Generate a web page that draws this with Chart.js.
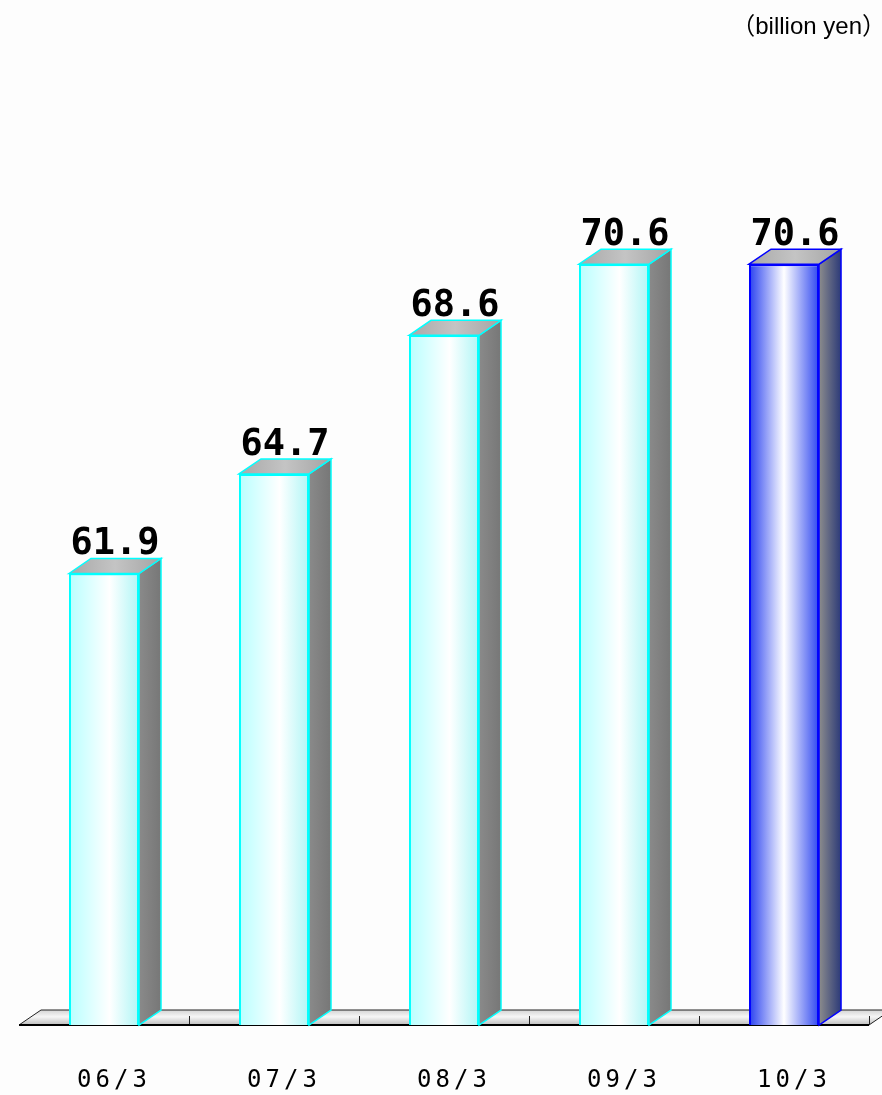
<!DOCTYPE html>
<html>
<head>
<meta charset="utf-8">
<script src="https://cdn.jsdelivr.net/npm/chart.js@4.4.1/dist/chart.umd.min.js"></script>
<style>
  html, body { margin: 0; padding: 0; background: #fdfdfd; }
  #wrap { width: 882px; height: 1095px; }
</style>
</head>
<body>
<div id="wrap"><canvas id="SalesChart" width="882" height="1095"></canvas></div>
<script>
//
//
// Data
var periods = ['06/3', '07/3', '08/3', '09/3', '10/3'];
var sales_values = [61.9, 64.7, 68.6, 70.6, 70.6];
var unit_label = '\uFF08billion yen\uFF09';

//
//
// 3D look
var depth_x = 22;
var depth_y = 15;
var bar_ratio = 0.412;

function frontGradient(chart, index){
  var scale = chart.scales.x;
  if (!scale || !chart.chartArea) return '#e0ffff';
  var center = scale.getPixelForValue(index);
  var half = (scale.width / periods.length) * bar_ratio / 2;
  var g = chart.ctx.createLinearGradient(center - half, 0, center + half, 0);
  if (index === periods.length - 1) {
    g.addColorStop(0, '#2840f0');
    g.addColorStop(0.5, '#ffffff');
    g.addColorStop(1, '#3048f0');
  } else {
    g.addColorStop(0, '#b8ffff');
    g.addColorStop(0.58, '#ffffff');
    g.addColorStop(1, '#b0f6f6');
  }
  return g;
}

//
//
// Floor, side faces, top faces and value labels
var threeD = {
  id: 'threeD',
  beforeDraw: function(chart){
    // wider spacing for the period labels under the floor
    chart.ctx.letterSpacing = '4px';
  },
  beforeDatasetsDraw: function(chart){
    var ctx = chart.ctx;
    ctx.letterSpacing = '0px';
    var area = chart.chartArea;
    var left = area.left, right = area.right, bottom = area.bottom;

    ctx.save();
    var g = ctx.createLinearGradient(0, bottom - depth_y, 0, bottom);
    g.addColorStop(0, '#d4d4d4');
    g.addColorStop(0.45, '#f6f6f6');
    g.addColorStop(1, '#bdbdbd');
    ctx.beginPath();
    ctx.moveTo(left, bottom);
    ctx.lineTo(left + depth_x, bottom - depth_y);
    ctx.lineTo(right + depth_x, bottom - depth_y);
    ctx.lineTo(right, bottom);
    ctx.closePath();
    ctx.fillStyle = g;
    ctx.fill();

    ctx.strokeStyle = '#222222';
    ctx.lineWidth = 1;
    ctx.beginPath();
    ctx.moveTo(left, bottom);
    ctx.lineTo(left + depth_x, bottom - depth_y);
    ctx.lineTo(right + depth_x, bottom - depth_y);
    ctx.moveTo(right, bottom);
    ctx.lineTo(right + depth_x, bottom - depth_y);
    var step = (right - left) / periods.length;
    for (var i = 1; i <= periods.length; i++) {
      var tx = Math.round(left + step * i) + 0.5;
      ctx.moveTo(tx, bottom);
      ctx.lineTo(tx, bottom - 9);
    }
    ctx.stroke();

    ctx.lineWidth = 2;
    ctx.strokeStyle = '#000000';
    ctx.beginPath();
    ctx.moveTo(left, bottom);
    ctx.lineTo(right, bottom);
    ctx.stroke();
    ctx.restore();
  },
  afterDatasetsDraw: function(chart){
    var ctx = chart.ctx;
    var meta = chart.getDatasetMeta(0);
    var floor = chart.chartArea.bottom;
    ctx.save();
    meta.data.forEach(function(bar, i){
      var p = bar.getProps(['x', 'y', 'width'], true);
      var l = p.x - p.width / 2;
      var r = p.x + p.width / 2;
      var last = (i === periods.length - 1);
      var edge = last ? '#0000ff' : '#00ffff';

      // side face
      var sg = ctx.createLinearGradient(r, 0, r + depth_x, 0);
      if (last) {
        sg.addColorStop(0, '#8c8c8c');
        sg.addColorStop(1, '#2c3a78');
      } else {
        sg.addColorStop(0, '#8a8a8a');
        sg.addColorStop(1, '#777777');
      }
      ctx.beginPath();
      ctx.moveTo(r, p.y);
      ctx.lineTo(r + depth_x, p.y - depth_y);
      ctx.lineTo(r + depth_x, floor - depth_y);
      ctx.lineTo(r, floor);
      ctx.closePath();
      ctx.fillStyle = sg;
      ctx.fill();
      ctx.lineWidth = 1.5;
      ctx.strokeStyle = edge;
      ctx.stroke();

      // top face
      var tg = ctx.createLinearGradient(l, 0, r + depth_x, 0);
      tg.addColorStop(0, '#a8a8a8');
      tg.addColorStop(0.5, '#c4c4c4');
      tg.addColorStop(1, '#a4a4a4');
      ctx.beginPath();
      ctx.moveTo(l, p.y);
      ctx.lineTo(l + depth_x, p.y - depth_y);
      ctx.lineTo(r + depth_x, p.y - depth_y);
      ctx.lineTo(r, p.y);
      ctx.closePath();
      ctx.fillStyle = tg;
      ctx.fill();
      ctx.stroke();

      // value label
      ctx.fillStyle = '#000000';
      ctx.font = 'bold 37px "DejaVu Sans Mono"';
      ctx.textAlign = 'center';
      ctx.textBaseline = 'alphabetic';
      ctx.fillText(sales_values[i].toFixed(1), p.x + depth_x / 2, p.y - depth_y - 4);
    });

    // unit label
    ctx.font = '24px "Liberation Sans", "Noto Sans CJK JP"';
    ctx.textAlign = 'right';
    ctx.textBaseline = 'middle';
    ctx.fillStyle = '#000000';
    ctx.fillText(unit_label, 886, 27);
    ctx.restore();
  }
};

//
//
// Draw Chart
var sales_chart = document.getElementById('SalesChart').getContext('2d');
new Chart(sales_chart, {
  type: 'bar',
  data: {
    labels: periods,
    datasets: [{
      data: sales_values,
      backgroundColor: function(c){ return frontGradient(c.chart, c.dataIndex); },
      borderColor: function(c){ return c.dataIndex === periods.length - 1 ? '#0000ff' : '#00ffff'; },
      borderWidth: 2,
      borderSkipped: false,
      categoryPercentage: 1,
      barPercentage: bar_ratio
    }]
  },
  plugins: [threeD],
  options: {
    responsive: false,
    animation: false,
    layout: { padding: { left: 19, right: 13, top: 58, bottom: 0 } },
    plugins: {
      legend: { display: false },
      tooltip: { enabled: false }
    },
    scales: {
      x: {
        grid: { display: false, drawTicks: false },
        border: { display: false },
        afterFit: function(scale){ scale.height = 70; },
        ticks: {
          color: '#000000',
          padding: 41,
          labelOffset: 10,
          font: { family: '"DejaVu Sans Mono"', size: 24 }
        }
      },
      y: {
        display: false,
        min: 49.2,
        max: 76.4
      }
    }
  }
});
</script>
</body>
</html>
